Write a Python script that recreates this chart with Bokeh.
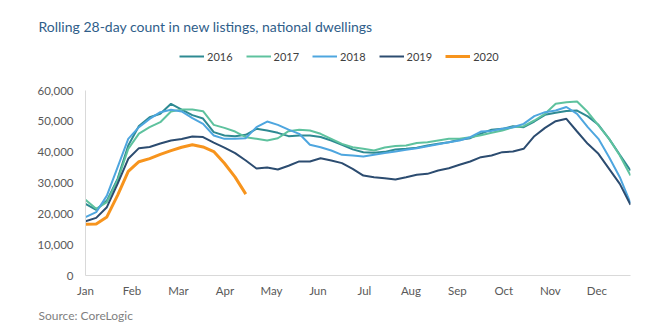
from bokeh.plotting import figure
from bokeh.models import (Range1d, FixedTicker, NumeralTickFormatter, Legend, LegendItem, Title)
from bokeh.embed import file_html
from bokeh.resources import INLINE

title_text = "Rolling 28-day count in new listings, national dwellings"
source_text = "Source: CoreLogic"
months = ["Jan", "Feb", "Mar", "Apr", "May", "Jun", "Jul", "Aug", "Sep", "Oct", "Nov", "Dec"]
years = ["2016", "2017", "2018", "2019", "2020"]
y_ticks = [0, 10000, 20000, 30000, 40000, 50000, 60000]

y2016 = [23250, 21300, 24300, 31350, 42160, 48500, 51340, 52440, 55680, 53800,
         52000, 50900, 46500, 45400, 45190, 45620, 47570, 47020, 46270, 45200,
         45400, 45400, 44900, 43800, 42400, 40900, 40000, 39800, 40100, 40860,
         41080, 41400, 42160, 42700, 43240, 44000, 44540, 46000, 47300, 47560,
         48430, 48100, 49940, 52110, 52800, 53350, 53510, 51600, 48870, 44320,
         39140, 34050]
y2017 = [24550, 21620, 23800, 30800, 41080, 46000, 48100, 49720, 53200, 53800,
         53830, 53300, 48860, 47890, 46700, 44860, 44320, 43780, 44500, 46800,
         47300, 47020, 45950, 44320, 42700, 41620, 41080, 40540, 41500, 42000,
         42160, 43000, 43240, 43780, 44320, 44320, 44860, 45500, 46270, 47020,
         48100, 48430, 50270, 52430, 55700, 56210, 56430, 53000, 48650, 44320,
         38920, 32430]
y2018 = [18920, 20540, 25900, 35100, 44330, 48100, 50800, 52960, 53780, 53200,
         51020, 49190, 45400, 44320, 44320, 44540, 48100, 49940, 48860, 47300,
         45950, 42400, 41600, 40540, 39140, 38920, 38590, 39140, 39700, 40210,
         40750, 41290, 41940, 42590, 43240, 43780, 44860, 46700, 46900, 47560,
         48100, 49190, 51670, 52970, 53500, 54650, 52430, 48100, 44320, 38380,
         31890, 23500]
y2019 = [17620, 18700, 22160, 29700, 37840, 41300, 41700, 42800, 43780, 44300,
         45100, 44900, 43100, 41500, 39700, 37300, 34700, 35000, 34400, 35600,
         37000, 37000, 38000, 37300, 36450, 34600, 32400, 31900, 31550, 31130,
         31880, 32650, 32970, 34050, 34800, 35900, 36970, 38380, 38900, 40000,
         40210, 41080, 45190, 47890, 50050, 50810, 46700, 42700, 39460, 34600,
         29730, 22920]
y2020 = [16600, 16700, 19000, 26000, 33800, 36900, 37900, 39300, 40500, 41600,
         42400, 41700, 40200, 36400, 31900, 26400]

series = [y2016, y2017, y2018, y2019, y2020]
colors = ["#2E8A92", "#5EC29E", "#4EA6DF", "#2C4C70", "#F7941D"]
widths = [2, 2, 2, 2, 3]

# frame spans from y=38 to y=275; the top 60,000 tick sits at y=90
frame_top, frame_bottom, top_tick_px = 38, 275, 90
y_end = y_ticks[-1] * (frame_bottom - frame_top) / (frame_bottom - top_tick_px)

p = figure(width=653, height=336, output_backend="svg", toolbar_location=None,
           x_range=Range1d(0, 51), y_range=Range1d(0, y_end),
           min_border_left=85, min_border_right=23, min_border_top=frame_top,
           min_border_bottom=336 - frame_bottom)
p.outline_line_color = None
p.xgrid.visible = False
p.ygrid.visible = False
p.background_fill_color = "white"
p.border_fill_color = "white"

p.title.text = title_text
p.title.text_font = "Lato"
p.title.text_font_size = "14px"
p.title.text_font_style = "normal"
p.title.text_color = "#2F5E8A"
p.title.align = "left"
p.title.offset = -47
p.title.standoff = 7

month_ticks = [round(m * 4.35, 2) for m in range(12)]
p.xaxis.ticker = FixedTicker(ticks=month_ticks)
p.xaxis.major_label_overrides = {t: lab for t, lab in zip(month_ticks, months)}
p.yaxis.ticker = FixedTicker(ticks=y_ticks)
p.yaxis.formatter = NumeralTickFormatter(format="0,0")
p.yaxis.bounds = (y_ticks[0], y_ticks[-1])

for ax in (p.xaxis[0], p.yaxis[0]):
    ax.axis_line_color = "#D9D9D9"
    ax.axis_line_width = 1
    ax.major_tick_line_color = None
    ax.minor_tick_line_color = None
    ax.major_tick_out = 0
    ax.major_tick_in = 0
    ax.minor_tick_out = 0
    ax.minor_tick_in = 0
    ax.major_label_text_font = "Lato"
    ax.major_label_text_font_size = "11.5px"
    ax.major_label_text_color = "#595959"
p.xaxis.major_label_standoff = 8
p.yaxis.major_label_standoff = 12

items = []
for name, ys, c, w in zip(years, series, colors, widths):
    xs = list(range(len(ys)))
    r = p.line(xs, ys, line_color=c, line_width=w)
    items.append(LegendItem(label=name, renderers=[r]))

legend = Legend(items=items, orientation="horizontal", location=(94, 211),
                glyph_width=25, glyph_height=16, label_standoff=3, spacing=13,
                padding=0, margin=0, border_line_alpha=0, background_fill_alpha=0,
                label_text_font="Lato", label_text_font_size="11px",
                label_text_color="#404040", label_height=16)
p.add_layout(legend, "center")

src = Title(text=source_text, align="left", offset=-47, standoff=13,
            text_font="Lato", text_font_size="12px", text_font_style="normal",
            text_color="#7F7F7F")
p.add_layout(src, "below")

open("out.html", "w").write(file_html(p, INLINE))
